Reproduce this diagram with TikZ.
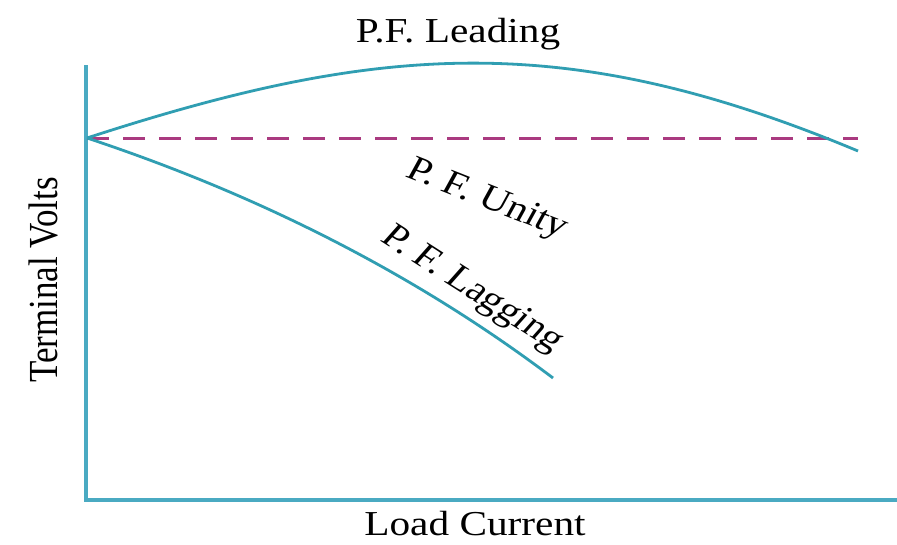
\documentclass[tikz,border=0pt]{standalone}
\usepackage{fontspec}
\setmainfont{Liberation Serif}
\definecolor{curvecol}{RGB}{48,158,178}
\definecolor{axiscol}{RGB}{74,170,194}
\definecolor{dashcol}{RGB}{170,58,128}
\begin{document}
\begin{tikzpicture}[x=1pt,y=-1pt,
  axis/.style={draw=axiscol, line width=3.2pt},
  curve/.style={draw=curvecol, line width=2.8pt},
  unityline/.style={draw=dashcol, line width=3pt, dash pattern=on 22pt off 14pt},
  lbl/.style={inner sep=0pt, font=\fontsize{35}{40}\selectfont, xscale=1.18, transform shape}]
\useasboundingbox (0,0) rectangle (897,544);
\fill[white] (0,0) rectangle (897,544);
% axes
\coordinate (ytop) at (86,65);
\coordinate (orig) at (86,500);
\coordinate (xend) at (897,500);
\draw[axis] (ytop) -- (orig) -- (xend);
% curves
\coordinate (O) at (87,138);
\coordinate (leadend) at (858,151);
\coordinate (unityend) at (858,138);
\coordinate (lagend) at (553,378);
\draw[unityline] (O) -- (unityend);
\draw[curve] (O) .. controls (379,43) and (566,29) .. (leadend);
\draw[curve] (O) .. controls (262,196) and (418,276) .. (lagend);
% labels
\coordinate (pleading) at (458,34);
\coordinate (punity) at (487,200);
\coordinate (plagging) at (472,290);
\coordinate (pload) at (475,524);
\coordinate (pterm) at (43,280);
\node[lbl] (leading) at (pleading) {P.F. Leading};
\node[lbl, rotate=-25] (unity) at (punity) {P. F. Unity};
\node[lbl, rotate=-37] (lagging) at (plagging) {P. F. Lagging};
\node[lbl] (load) at (pload) {Load Current};
\node[lbl, rotate=90] (term) at (pterm) {Terminal Volts};
\end{tikzpicture}
\end{document}
